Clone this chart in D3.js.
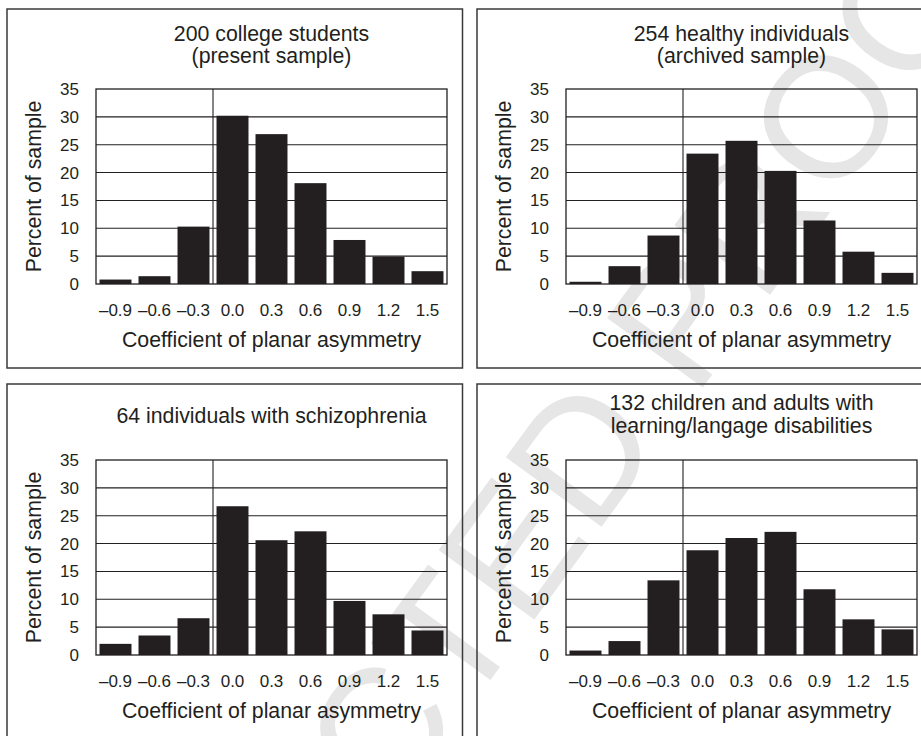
<!DOCTYPE html>
<html><head><meta charset="utf-8">
<script src="https://cdn.jsdelivr.net/npm/d3@7"></script>
<style>
body{margin:0;background:#fff}
svg{display:block}
text{font-family:"Liberation Sans",Arial,Helvetica,sans-serif}
</style>
</head><body><svg id="c" width="921" height="736"></svg>
<script>
// ---- data ----
const categories = ["–0.9","–0.6","–0.3","0.0","0.3","0.6","0.9","1.2","1.5"];
const yTicks = [0,5,10,15,20,25,30,35];
const collegeStudents = [0.8,1.4,10.3,30.2,26.9,18.1,7.9,4.9,2.3];
const healthyArchived = [0.4,3.2,8.7,23.4,25.7,20.3,11.4,5.8,2.0];
const schizophrenia = [2.0,3.5,6.6,26.7,20.6,22.2,9.7,7.3,4.4];
const learningDisabilities = [0.8,2.5,13.4,18.8,21.0,22.1,11.8,6.4,4.6];
const titles = [
  ["200 college students","(present sample)"],
  ["254 healthy individuals","(archived sample)"],
  ["64 individuals with schizophrenia"],
  ["132 children and adults with","learning/langage disabilities"]
];
const xAxisTitle = "Coefficient of planar asymmetry";
const yAxisTitle = "Percent of sample";
const watermark = "UNCORRECTED PROOF";

// ---- drawing ----
const ink = "#231f20";
const svg = d3.select("#c");

svg.append("text")
  .attr("transform","translate(-120,1520) rotate(-54)")
  .attr("font-size",172)
  .style("fill","#e6e6e6")
  .text(watermark);

const panels = [
  {values: collegeStudents, title: titles[0], dx:0,   dy:0,   boxTop:9,   titleY:[40.5,63]},
  {values: healthyArchived, title: titles[1], dx:470, dy:0,   boxTop:9,   titleY:[40.5,63]},
  {values: schizophrenia,   title: titles[2], dx:0,   dy:371, boxTop:384, titleY:[423]},
  {values: learningDisabilities, title: titles[3], dx:470, dy:371, boxTop:384, titleY:[410,433]}
];

const pL = 96, pR = 447, pT = 89, pB = 284;
const x = d3.scaleBand().domain(categories).range([pL,pR]).paddingInner(0.18).paddingOuter(0.09);
const y = d3.scaleLinear().domain([0,35]).range([pB,pT]);

panels.forEach(p => {
  svg.append("rect")
    .attr("x", 7 + p.dx).attr("y", p.boxTop)
    .attr("width", 455.5).attr("height", 359)
    .attr("fill","none").attr("stroke","#3a3a3a").attr("stroke-width",1.5);

  const g = svg.append("g").attr("transform", `translate(${p.dx},${p.dy})`);

  p.title.forEach((t,i) => {
    g.append("text").attr("x",(pL+pR)/2).attr("y",p.titleY[i]-p.dy)
      .attr("text-anchor","middle").attr("font-size",21.3).style("fill",ink).text(t);
  });

  g.append("g").selectAll("line").data(yTicks.filter(v=>v>0 && v<35)).join("line")
    .attr("x1",pL).attr("x2",pR)
    .attr("y1",d=>y(d)).attr("y2",d=>y(d))
    .attr("stroke",ink).attr("stroke-width",1.1);

  const zx = x("0.0") - x.step()*x.paddingInner()/2;
  g.append("line").attr("x1",zx).attr("x2",zx).attr("y1",pT).attr("y2",pB)
    .attr("stroke",ink).attr("stroke-width",1.1);

  g.append("g").selectAll("rect").data(p.values).join("rect")
    .attr("x",(d,i)=>x(categories[i]))
    .attr("width",x.bandwidth())
    .attr("y",d=>y(d))
    .attr("height",d=>y(0)-y(d))
    .attr("fill",ink);

  g.append("rect").attr("x",pL).attr("y",pT).attr("width",pR-pL).attr("height",pB-pT)
    .attr("fill","none").attr("stroke",ink).attr("stroke-width",1.3);

  const ya = g.append("g").attr("transform",`translate(${pL},0)`)
    .call(d3.axisLeft(y).tickValues(yTicks).tickSize(0).tickPadding(17));
  ya.select(".domain").remove();
  ya.selectAll("text").attr("font-size",17).attr("font-family",null).style("fill",ink);

  const xa = g.append("g").attr("transform",`translate(0,${pB})`)
    .call(d3.axisBottom(x).tickSize(0).tickPadding(20));
  xa.select(".domain").remove();
  xa.selectAll("text").attr("font-size",17).attr("font-family",null).style("fill",ink);

  g.append("text").attr("x",(pL+pR)/2).attr("y",347)
    .attr("text-anchor","middle").attr("font-size",21.3).style("fill",ink).text(xAxisTitle);
  g.append("text").attr("transform",`translate(41,${(pT+pB)/2}) rotate(-90)`)
    .attr("text-anchor","middle").attr("font-size",21.3).style("fill",ink).text(yAxisTitle);
});
</script>
</body></html>
